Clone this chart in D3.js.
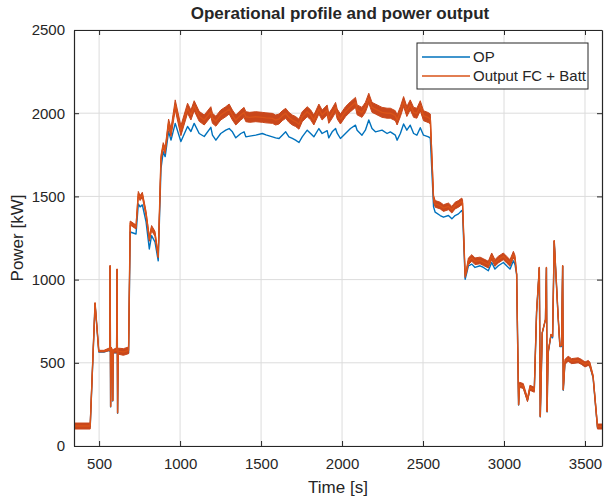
<!DOCTYPE html>
<html>
<head>
<meta charset="UTF-8">
<title>Operational profile and power output</title>
<script src="https://d3js.org/d3.v7.min.js"></script>
<style>
    body { margin: 0; background: #fff; }
    svg text { font-family: "Liberation Sans", Arial, sans-serif; fill: #262626; }
</style>
</head>
<body>
<div id="chart"></div>
<script>
// time [s]
const time = [345, 445, 475, 498, 530, 560, 566, 568, 571, 575, 582, 584, 587, 608, 611, 614, 618, 650, 682,
    692, 728, 742, 753, 767, 790, 810, 824, 845, 865, 882, 896, 908, 929, 944, 970, 1005, 1046, 1067, 1087, 1118, 1149,
    1190, 1200, 1221, 1251, 1282, 1303, 1323, 1344, 1375, 1395, 1406, 1430, 1467, 1508, 1530, 1570, 1590, 1611, 1631,
    1652, 1672, 1693, 1713, 1734, 1754, 1785, 1806, 1826, 1857, 1877, 1908, 1918, 1939, 1960, 1970, 1990, 2021, 2052,
    2083, 2093, 2123, 2144, 2165, 2185, 2206, 2247, 2278, 2298, 2329, 2340, 2360, 2380, 2400, 2421, 2442, 2462, 2483,
    2503, 2534, 2545, 2565, 2575, 2606, 2626, 2657, 2678, 2698, 2719, 2739, 2744, 2760, 2770, 2780, 2801, 2821, 2852,
    2873, 2903, 2924, 2944, 2965, 2996, 3016, 3037, 3058, 3068, 3078, 3090, 3096, 3119, 3145, 3160, 3187, 3201, 3218,
    3224, 3236, 3256, 3262, 3266, 3272, 3290, 3300, 3310, 3334, 3345, 3355, 3362, 3366, 3376, 3396, 3417, 3458, 3479,
    3500, 3520, 3530, 3550, 3577, 3605];

// operational profile [kW]
const op = [115, 115, 855, 565, 565, 575, 570, 1080, 235, 575, 570, 270, 560, 560, 1060, 197, 560, 555, 560,
    1286, 1274, 1455, 1437, 1449, 1347, 1184, 1264, 1226, 1113, 1667, 1769, 1739, 1890, 1838, 1939, 1830, 1920, 1890, 1939, 1878, 1860,
    1915, 1868, 1838, 1878, 1898, 1908, 1888, 1852, 1878, 1888, 1858, 1862, 1868, 1878, 1870, 1858, 1852, 1848, 1868,
    1888, 1858, 1848, 1838, 1824, 1858, 1898, 1878, 1858, 1908, 1878, 1895, 1852, 1888, 1908, 1880, 1848, 1878, 1908,
    1928, 1898, 1868, 1898, 1959, 1908, 1888, 1898, 1878, 1888, 1868, 1838, 1878, 1935, 1898, 1928, 1878, 1868, 1913,
    1868, 1858, 1850, 1437, 1405, 1385, 1375, 1385, 1365, 1385, 1395, 1415, 1405, 1002, 1040, 1083, 1093, 1073, 1083,
    1073, 1053, 1103, 1063, 1083, 1103, 1083, 1063, 1113, 1090, 1030, 246, 365, 355, 275, 345, 335, 800, 1070,
    175, 678, 758, 1070, 205, 555, 665, 650, 1230, 778, 598, 598, 1080, 335, 495, 515, 500, 505, 495,
    480, 490, 480, 410, 112, 112];

// power output fuel cell + battery [kW]
const output = [120, 120, 860, 570, 570, 580, 575, 1083, 237, 585, 575, 273, 570, 575, 1063, 199, 570, 565, 575,
    1340, 1316, 1515, 1490, 1510, 1395, 1245, 1310, 1275, 1140, 1730, 1805, 1775, 1940, 1885, 2050, 1895, 2030, 1989, 2045, 1981, 1959,
    2009, 1969, 1952, 1989, 2009, 2025, 1989, 1959, 1989, 2005, 1979, 1975, 1979, 1975, 1972, 1969, 1959, 1965, 1985,
    1999, 1975, 1959, 1950, 1934, 1979, 2009, 1990, 1959, 2025, 1989, 2019, 1969, 1999, 2035, 1995, 1965, 2009, 2039,
    2065, 2020, 2005, 2035, 2090, 2035, 2025, 2005, 2000, 2000, 1985, 1959, 2009, 2070, 2010, 2050, 2005, 2000, 2045,
    1985, 1973, 1965, 1486, 1455, 1445, 1430, 1440, 1420, 1445, 1455, 1470, 1460, 1022, 1060, 1110, 1130, 1110, 1115,
    1105, 1090, 1140, 1100, 1120, 1140, 1120, 1100, 1150, 1130, 1033, 248, 368, 360, 278, 350, 338, 805, 1073,
    177, 681, 761, 1073, 207, 560, 670, 660, 1234, 781, 600, 605, 1083, 338, 505, 525, 510, 515, 505,
    490, 499, 490, 419, 117, 117];

// half height of the fast ripple on the output [kW]
const ripple = [18, 18, 0, 5, 5, 8, 0, 0, 0, 10, 5, 0, 10, 15, 0, 0, 18, 20, 20,
    12, 12, 15, 15, 15, 15, 15, 15, 15, 10, 18, 18, 18, 25, 25, 30, 30, 30, 30, 30, 30, 30,
    30, 30, 30, 30, 30, 30, 30, 30, 30, 30, 30, 30, 30, 30, 30, 30, 30, 30, 30,
    30, 30, 30, 30, 30, 30, 30, 30, 30, 30, 30, 30, 30, 30, 30, 30, 30, 30, 30,
    30, 30, 30, 30, 30, 30, 30, 30, 30, 30, 30, 30, 30, 30, 30, 30, 30, 30, 30,
    30, 30, 30, 20, 20, 20, 20, 20, 20, 20, 20, 20, 20, 10, 15, 20, 20, 20, 20,
    20, 20, 20, 20, 20, 20, 20, 20, 20, 15, 0, 0, 15, 15, 12, 15, 15, 0, 0,
    0, 0, 0, 0, 0, 0, 0, 0, 0, 0, 0, 0, 0, 0, 15, 15, 15, 15, 15,
    15, 15, 15, 8, 15, 15];

const xTicks = [500, 1000, 1500, 2000, 2500, 3000, 3500];
const yTicks = [0, 500, 1000, 1500, 2000, 2500];
const seriesNames = ["OP", "Output FC + Batt"];
const colors = ["#0072BD", "#D95319"];

const data = time.map((t, i) => ({t: t, op: op[i], out: output[i], r: ripple[i]}));

const W = 605, H = 500;
const margin = {top: 30, right: 3, bottom: 54, left: 74};
const width = W - margin.left - margin.right,
      height = H - margin.top - margin.bottom;

const svg = d3.select("#chart").append("svg")
    .attr("width", W)
    .attr("height", H);

const g = svg.append("g")
    .attr("transform", "translate(" + margin.left + "," + margin.top + ")");

const x = d3.scaleLinear().domain([345, 3605]).range([0, width]);
const y = d3.scaleLinear().domain([0, 2500]).range([height, 0]);

// grid
g.append("g").selectAll("line").data(xTicks).join("line")
    .attr("x1", d => x(d)).attr("x2", d => x(d))
    .attr("y1", 0).attr("y2", height)
    .attr("stroke", "#dcdcdc").attr("stroke-width", 1);
g.append("g").selectAll("line").data(yTicks).join("line")
    .attr("x1", 0).attr("x2", width)
    .attr("y1", d => y(d)).attr("y2", d => y(d))
    .attr("stroke", "#dcdcdc").attr("stroke-width", 1);

// clip the curves to the axes box
g.append("clipPath").attr("id", "clip")
    .append("rect").attr("width", width).attr("height", height);

const plot = g.append("g").attr("clip-path", "url(#clip)");

// OP line
plot.append("path")
    .datum(data)
    .attr("fill", "none")
    .attr("stroke", colors[0])
    .attr("stroke-width", 1.4)
    .attr("stroke-linejoin", "round")
    .attr("d", d3.line().x(d => x(d.t)).y(d => y(d.op)));

// output: ripple band + line
plot.append("path")
    .datum(data)
    .attr("fill", "#C9471B")
    .attr("stroke", "#C9471B")
    .attr("stroke-width", 1)
    .attr("d", d3.area().x(d => x(d.t)).y0(d => y(d.out - d.r)).y1(d => y(d.out + d.r)));

plot.append("path")
    .datum(data)
    .attr("fill", "none")
    .attr("stroke", colors[1])
    .attr("stroke-width", 1.4)
    .attr("stroke-linejoin", "round")
    .attr("d", d3.line().x(d => x(d.t)).y(d => y(d.out)));

// axes (MATLAB style box, ticks inside)
const axisColor = "#262626";
const fmt = d3.format("d");
const xAxis = g.append("g")
    .attr("transform", "translate(0," + height + ")")
    .call(d3.axisBottom(x).tickValues(xTicks).tickFormat(fmt).tickSizeInner(-5).tickSizeOuter(0).tickPadding(12));
const xTop = g.append("g")
    .call(d3.axisTop(x).tickValues(xTicks).tickSizeInner(-5).tickSizeOuter(0).tickFormat(""));
const yAxis = g.append("g")
    .call(d3.axisLeft(y).tickValues(yTicks).tickFormat(fmt).tickSizeInner(-5).tickSizeOuter(0).tickPadding(9));
const yRight = g.append("g")
    .attr("transform", "translate(" + width + ",0)")
    .call(d3.axisRight(y).tickValues(yTicks).tickSizeInner(-5).tickSizeOuter(0).tickFormat(""));

[xAxis, xTop, yAxis, yRight].forEach(a => {
    a.select(".domain").attr("stroke", axisColor).attr("stroke-width", 1.2);
    a.selectAll(".tick line").attr("stroke", axisColor);
    a.selectAll(".tick text").style("font-size", "15px").attr("fill", axisColor);
});

// title and labels
svg.append("text")
    .attr("x", margin.left + width / 2 + 2)
    .attr("y", 19)
    .attr("text-anchor", "middle")
    .style("font-size", "17px")
    .style("font-weight", "bold")
    .text("Operational profile and power output");

svg.append("text")
    .attr("x", margin.left + width / 2)
    .attr("y", 493)
    .attr("text-anchor", "middle")
    .style("font-size", "17px")
    .text("Time [s]");

svg.append("text")
    .attr("transform", "translate(23," + (margin.top + height / 2) + ") rotate(-90)")
    .attr("text-anchor", "middle")
    .style("font-size", "17px")
    .text("Power [kW]");

// legend
const legend = svg.append("g").attr("transform", "translate(417,43)");
legend.append("rect")
    .attr("width", 171).attr("height", 46)
    .attr("fill", "#fff").attr("stroke", axisColor).attr("stroke-width", 1);
seriesNames.forEach((name, i) => {
    const ly = 14 + i * 19;
    legend.append("line")
        .attr("x1", 5).attr("x2", 53).attr("y1", ly).attr("y2", ly)
        .attr("stroke", colors[i]).attr("stroke-width", 1.4);
    legend.append("text")
        .attr("x", 56).attr("y", ly + 5)
        .style("font-size", "15px")
        .text(name);
});
</script>
</body>
</html>
